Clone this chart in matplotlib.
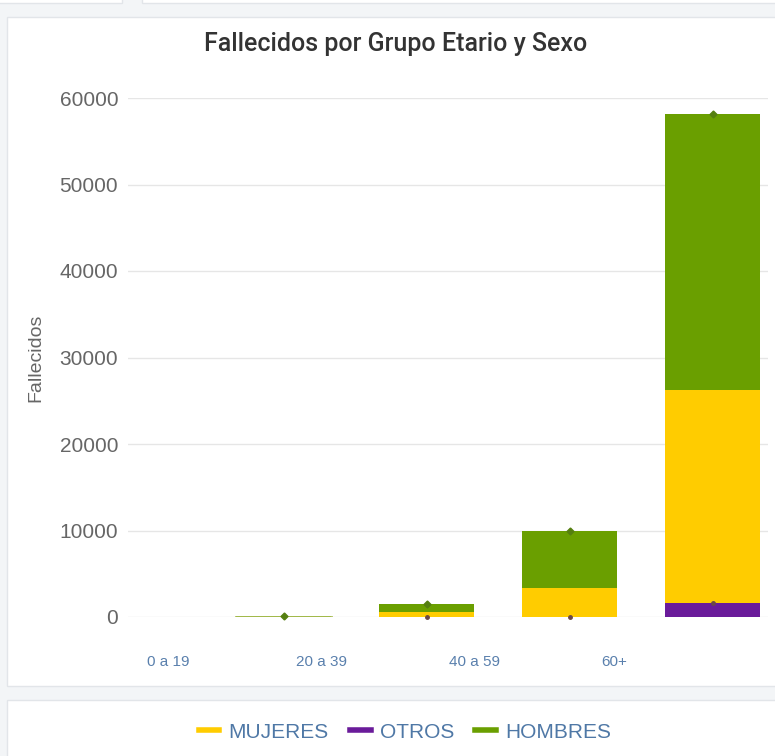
import matplotlib.pyplot as plt
from matplotlib.patches import Rectangle
from matplotlib.lines import Line2D
import numpy as np

# datos (fallecidos por grupo etario)
groups = ["0 a 19", "20 a 39", "40 a 59", "60+", ""]
tick_labels = ["0 a 19", "20 a 39", "40 a 59", "60+"]
mujeres = [5, 50, 550, 3350, 24600]
otros = [0, 0, 0, 0, 1600]
hombres = [10, 100, 950, 6600, 31900]

c_muj = '#ffcc00'
c_otr = '#6a1b9a'
c_hom = '#6a9f00'
txt_blue = '#4f78a6'

W, H = 775, 756
fig = plt.figure(figsize=(W / 100, H / 100), dpi=100, facecolor='#f3f5f7')

def px_rect(x0, y0, x1, y1, **kw):
    # rectangle in pixel coords (origin top-left)
    r = Rectangle((x0 / W, 1 - y1 / H), (x1 - x0) / W, (y1 - y0) / H,
                  transform=fig.transFigure, zorder=-10, **kw)
    fig.patches.append(r)

px_rect(-5, -10, 122, 3, facecolor='white', edgecolor='#e2e5e9', lw=1)
px_rect(142, -10, 790, 3, facecolor='white', edgecolor='#e2e5e9', lw=1)
px_rect(7, 17, 790, 686, facecolor='white', edgecolor='#e2e5e9', lw=1)
px_rect(7, 700, 790, 770, facecolor='white', edgecolor='#e2e5e9', lw=1)

ax = fig.add_axes([128 / W, 1 - 617 / H, (768 - 128) / W, (617 - 98) / H])
ax.set_facecolor('none')
ax.set_zorder(5)

x = np.arange(len(groups))
mujeres = np.array(mujeres)
otros = np.array(otros)
hombres = np.array(hombres)
bw = 0.665

ax.bar(x, otros, bw, color=c_otr, zorder=3)
ax.bar(x, mujeres, bw, bottom=otros, color=c_muj, zorder=3)
ax.bar(x, hombres, bw, bottom=otros + mujeres, color=c_hom, zorder=3)

# thin line for the near-zero group
ax.plot([x[1] - bw / 2, x[1] + bw / 2], [0, 0], color='#a9bd55', lw=2, zorder=4)

totals = otros + mujeres + hombres
ax.plot(x[1:], totals[1:], ls='none', marker='D', ms=3.5, color='#557f10', zorder=5, clip_on=False)
ax.plot(x[2:], otros[2:], ls='none', marker='o', ms=2.5, color='#6b4848', zorder=5, clip_on=False)

ax.set_xlim(-0.09, 4.385)
ax.set_ylim(0, 60000)
ax.set_yticks(np.arange(0, 60001, 10000))
ax.yaxis.grid(True, color='#e6e6e6', lw=1)
ax.set_axisbelow(True)
for s in ax.spines.values():
    s.set_visible(False)

ax.set_xticks([0.19, 1.26, 2.33, 3.31])
ax.set_xticklabels(tick_labels)
ax.tick_params(axis='x', length=0, pad=27, labelsize=11, labelcolor='#5a80ad')
ax.tick_params(axis='y', length=0, pad=7, labelsize=15, labelcolor='#666666')
for lab in ax.get_xticklabels() + ax.get_yticklabels():
    lab.set_family('Liberation Sans')

fig.text(396 / W, 1 - 44 / H, 'Fallecidos por Grupo Etario y Sexo', ha='center', va='center',
         fontsize=18, family='Roboto', weight='medium', color='#333333')
fig.text(36 / W, 1 - 358 / H, 'Fallecidos', rotation=90, ha='center', va='center',
         fontsize=14, family='Liberation Sans', color='#666666')

handles = [Line2D([], [], color=c, lw=4) for c in (c_muj, c_otr, c_hom)]
leg = fig.legend(handles, ['MUJERES', 'OTROS', 'HOMBRES'], loc='center',
                 bbox_to_anchor=(405 / W, 1 - 732 / H), ncol=3, frameon=False,
                 handlelength=1.0, handletextpad=0.45, columnspacing=1.0,
                 prop={'family': 'Liberation Sans', 'size': 15})
for t in leg.get_texts():
    t.set_color(txt_blue)

fig.savefig('out.png', dpi=100, facecolor=fig.get_facecolor())
